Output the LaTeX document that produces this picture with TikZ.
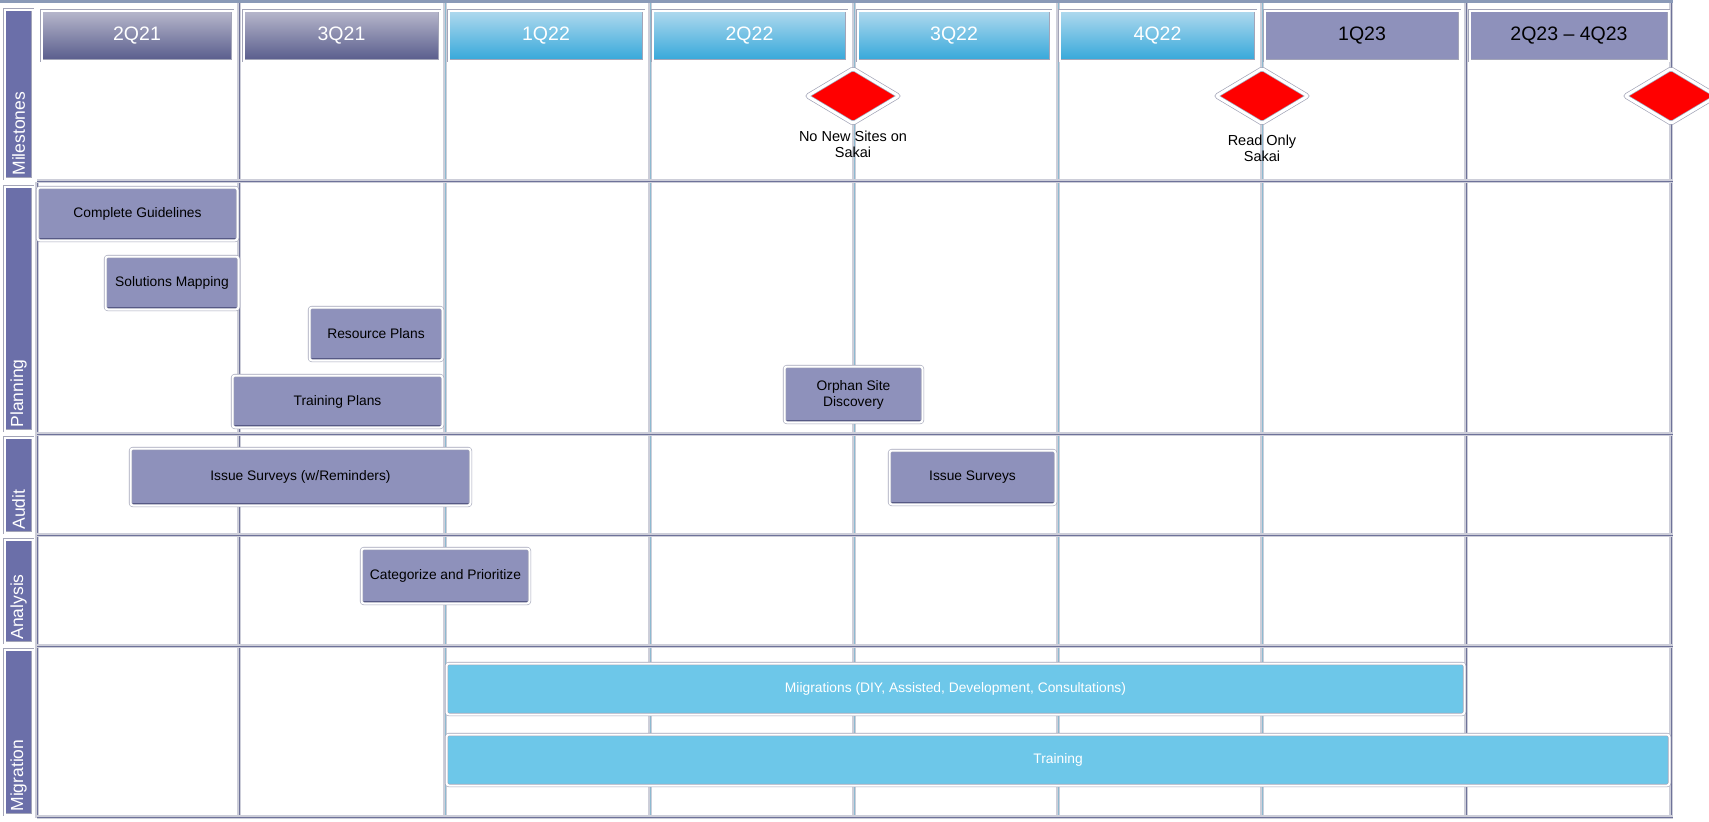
\documentclass[tikz,border=0pt]{standalone}
\usepackage{fontspec}
\setmainfont{Liberation Sans}
\usetikzlibrary{shapes.geometric}
\definecolor{hpTop}{HTML}{B8B8CC}
\definecolor{hpBot}{HTML}{585C8C}
\definecolor{hbTop}{HTML}{B0DAEE}
\definecolor{hbBot}{HTML}{35A8DA}
\definecolor{hflat}{HTML}{8E91BB}
\definecolor{taskP}{HTML}{8E91BB}
\definecolor{taskB}{HTML}{6DC7E9}
\definecolor{laneF}{HTML}{6B6FA9}
\definecolor{gridP}{HTML}{6E7299}
\definecolor{gridB}{HTML}{8DBAD0}
\definecolor{edgeG}{HTML}{CDCED9}
\definecolor{edgeO}{HTML}{A3A5B8}
\definecolor{topL}{HTML}{8A9AB8}
\definecolor{shadP}{HTML}{4B4F7E}
\definecolor{shadB}{HTML}{3B94BE}
\tikzset{
  bevel/.style={draw=edgeO, double=white, double distance=2pt, line width=0.6pt},
  hdr/.style={rectangle, bevel, inner sep=0, font=\fontsize{19.5}{22}\selectfont},
  hdrA/.style={hdr, top color=hpTop, bottom color=hpBot, text=white},
  hdrB/.style={hdr, top color=hbTop, bottom color=hbBot, text=white},
  hdrC/.style={hdr, fill=hflat, text=black},
  taskbase/.style={rectangle, rounded corners=2.5pt, bevel, inner sep=0, align=center, font=\fontsize{13.8}{16}\selectfont},
  taskp/.style={taskbase, fill=taskP, text=black,
    path picture={\draw[shadP, line width=4.4pt] (path picture bounding box.south west) -- (path picture bounding box.south east);
                  \draw[shadP, line width=3.4pt] (path picture bounding box.south east) -- (path picture bounding box.north east);}},
  taskb/.style={taskbase, fill=taskB, text=white,
    path picture={\draw[shadB, line width=4pt] (path picture bounding box.south west) -- (path picture bounding box.south east);}},
  lane/.style={rectangle, fill=laneF, bevel, rotate=90, text=white, align=left, inner xsep=3pt, inner ysep=0pt, minimum height=28pt, font=\fontsize{17.5}{20}\selectfont},
  mile/.style={diamond, fill=red, draw=edgeO, double=white, double distance=3pt, line width=0.7pt, rounded corners=2pt, minimum width=92pt, minimum height=55pt, inner sep=0},
  mlabel/.style={align=center, font=\fontsize{14.5}{16}\selectfont, text=black, inner sep=0},
  gridband/.style={edgeG, line width=3.5pt},
  gridcore/.style={line width=1.2pt}
}
\newcommand\gantbox[7]{\node[#6, minimum width={(#4-#2-3)*1pt}, minimum height={(#5-#3-3)*1pt}] (#1) at ({(#2+#4)/2},{(#3+#5)/2}) {#7};}
\newcommand\lanebox[4]{\node[lane, text width={(#3-#2-9)*1pt}] (#1) at (18.5,{(#2+#3)/2}) {#4};}
\begin{document}
\begin{tikzpicture}[x=1pt,y=-1pt]
\useasboundingbox (0,0) rectangle (1709,822);
\fill[white] (0,0) rectangle (1709,822);
% top border
\draw[topL, line width=3pt] (0,1) -- (1673,1);
% vertical grid lines
\foreach \gx/\gc in {239/gridP, 445/gridB, 650/gridB, 854/gridB, 1058/gridB, 1262/gridB, 1466/gridP, 1671/gridP} {
  \draw[gridband] (\gx,3) -- (\gx,818);
  \draw[gridcore, \gc] (\gx+0.8,3) -- (\gx+0.8,818);
}
\draw[gridband] (37,182) -- (37,818);
\draw[gridcore, gridP] (37.8,182) -- (37.8,818);
% horizontal lane separators
\foreach \gy in {181,434,535,646,817} {
  \draw[gridband] (37,\gy) -- (1673,\gy);
  \draw[gridcore, gridP] (37,\gy+0.8) -- (1673,\gy+0.8);
}
% headers
\gantbox{h1}{40}{9}{234}{62}{hdrA}{2Q21}
\gantbox{h2}{242}{9}{441}{62}{hdrA}{3Q21}
\gantbox{h3}{447}{9}{645}{62}{hdrB}{1Q22}
\gantbox{h4}{651}{9}{848}{62}{hdrB}{2Q22}
\gantbox{h5}{856}{9}{1052}{62}{hdrB}{3Q22}
\gantbox{h6}{1058}{9}{1257}{62}{hdrB}{4Q22}
\gantbox{h7}{1263}{9}{1461}{62}{hdrC}{1Q23}
\gantbox{h8}{1468}{9}{1670}{62}{hdrC}{2Q23 – 4Q23}
% lane labels
\lanebox{l1}{8}{180}{Milestones}
\lanebox{l2}{185}{432}{Planning}
\lanebox{l3}{436}{534}{Audit}
\lanebox{l4}{538}{644}{Analysis}
\lanebox{l5}{648}{816}{Migration}
% planning
\gantbox{t1}{36}{186}{239}{242}{taskp}{Complete Guidelines}
\gantbox{t2}{104}{255}{240}{311}{taskp}{Solutions Mapping}
\gantbox{t3}{308}{306}{444}{362}{taskp}{Resource Plans}
\gantbox{t4}{231}{374}{444}{429}{taskp}{Training Plans}
\gantbox{t5}{783}{365}{924}{424}{taskp}{Orphan Site\\Discovery}
% audit
\gantbox{t6}{129}{447}{472}{507}{taskp}{Issue Surveys (w/Reminders)}
\gantbox{t7}{888}{449}{1057}{506}{taskp}{Issue Surveys}
% analysis
\gantbox{t8}{360}{547}{531}{605}{taskp}{Categorize and Prioritize}
% migration
\gantbox{t9}{445}{662}{1466}{716}{taskb}{Miigrations (DIY, Assisted, Development, Consultations)}
\gantbox{t10}{445}{733}{1671}{787}{taskb}{Training}
% milestones
\node[mile] (m1) at (853,96) {};
\node[mile] (m2) at (1262,96) {};
\node[mile] (m3) at (1671,96) {};
\node[mlabel] (ml1) at (853,144) {No New Sites on\\Sakai};
\node[mlabel] (ml2) at (1262,148) {Read Only\\Sakai};
\end{tikzpicture}
\end{document}
